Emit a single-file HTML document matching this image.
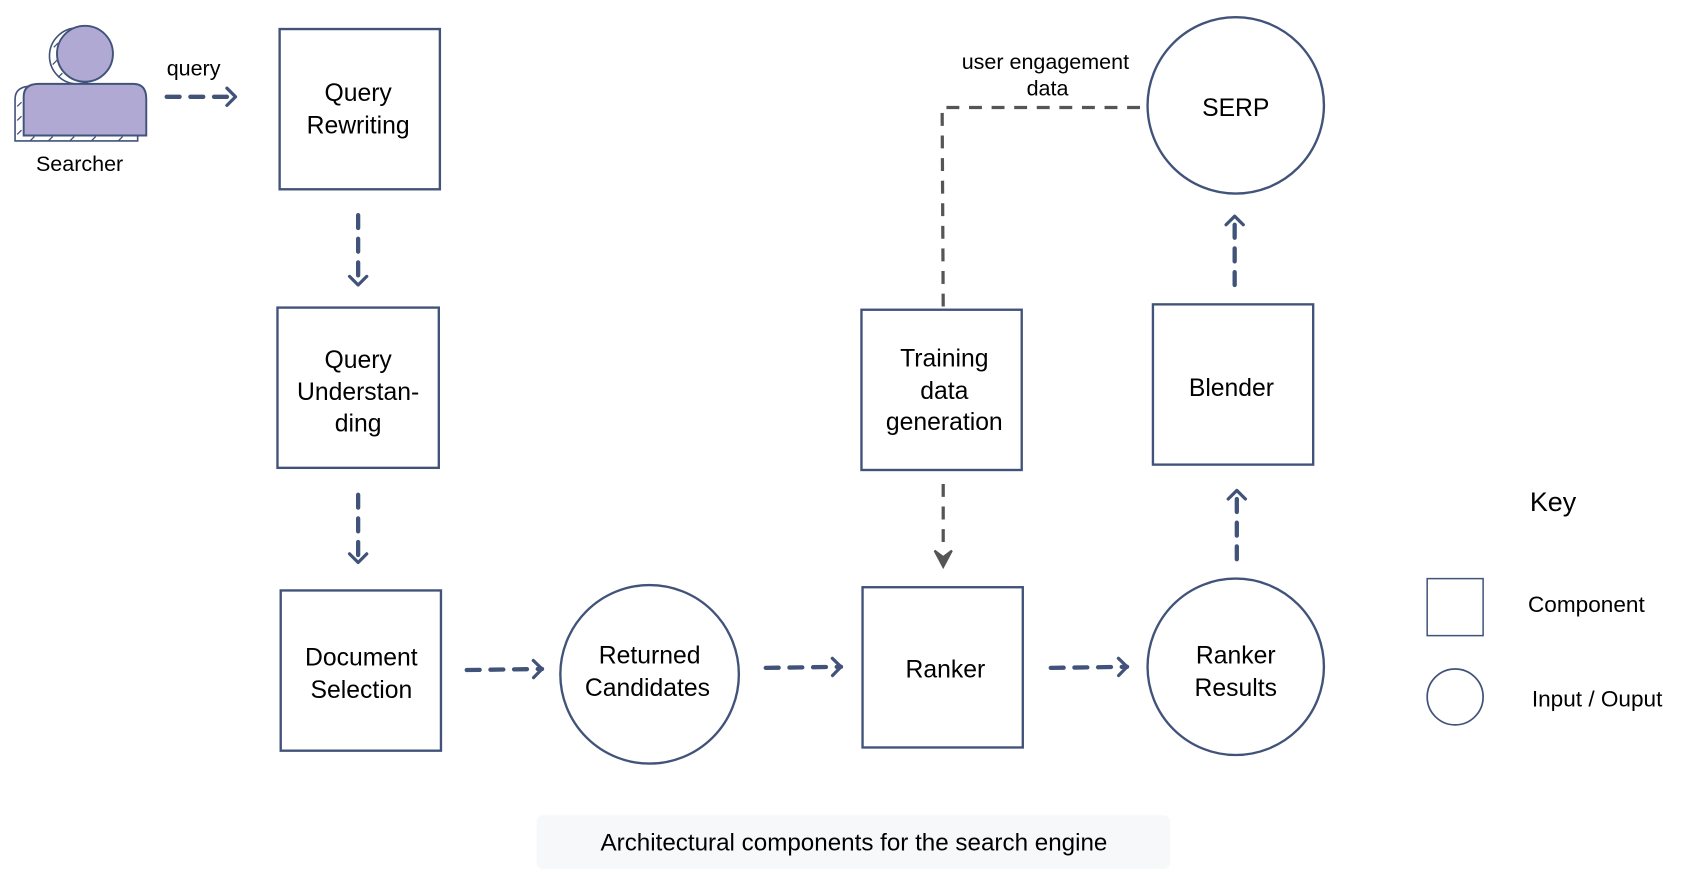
<!DOCTYPE html>
<html><head><meta charset="utf-8"><style>
html,body{margin:0;padding:0;background:#fff;}
svg{display:block;}
text{font-family:"Liberation Sans",Arial,sans-serif;fill:#000;}
</style></head><body>
<svg width="1681" height="869" viewBox="0 0 1563 808" xmlns="http://www.w3.org/2000/svg">
<defs>
<marker id="open" markerWidth="20" markerHeight="20" refX="12" refY="10" orient="auto" markerUnits="userSpaceOnUse">
<path d="M4,2 L12,10 L4,18" fill="none" stroke="#42537a" stroke-width="3" stroke-linecap="round" stroke-linejoin="round"/>
</marker>
</defs>
<g fill="none" stroke="#42537a" stroke-width="2.2">
<circle cx="72" cy="52" r="26" fill="#fff" stroke-width="1.5"/>
<path d="M14,131 L14,92 Q14,80 30,80 L128,80 L128,131 Z" fill="#fff" stroke-width="1.5"/>
</g>
<g stroke="#42537a" stroke-width="1.2">
<path d="M16,125 l4,-4 M16,112 l4,-4 M16,99 l4,-4 M28,131 l4,-4 M45,131 l4,-4 M65,131 l4,-4 M85,131 l4,-4 M110,131 l4,-4 M50,44 l4,-4 M49,60 l4,-4 M54,72 l4,-4"/>
</g>
<g fill="#b0a9d3" stroke="#42537a" stroke-width="1.8">
<circle cx="79" cy="50" r="26"/>
<path d="M22,126 L22,90 Q22,78 36,78 L124,78 Q136,78 136,92 L136,126 Z"/>
</g>
<text x="74" y="159" font-size="20" text-anchor="middle">Searcher</text>
<text x="180" y="70" font-size="20" text-anchor="middle">query</text>

<g fill="none" stroke="#42537a" stroke-width="2.2">
<rect x="260" y="27" width="149" height="149"/>
<rect x="258" y="286" width="150" height="149"/>
<rect x="261" y="549" width="149" height="149"/>
<rect x="802" y="546" width="149" height="149"/>
<rect x="801" y="288" width="149" height="149"/>
<rect x="1072" y="283" width="149" height="149"/>
<circle cx="604" cy="627" r="83"/>
<circle cx="1149" cy="620" r="82"/>
<circle cx="1149" cy="98" r="82"/>
<rect x="1327" y="538" width="52" height="53" stroke-width="1.4"/>
<circle cx="1353" cy="648" r="26" stroke-width="1.6"/>
</g>

<g fill="none" stroke="#42537a" stroke-width="4" stroke-dasharray="12,10" stroke-linecap="round" marker-end="url(#open)">
<path d="M155,90 L219,90"/>
<path d="M333,200 L333,265"/>
<path d="M333,460 L333,523"/>
<path d="M434,623 L504,622"/>
<path d="M712,621 L782,620"/>
<path d="M977,621 L1048,620"/>
<path d="M1150,520 L1150,456"/>
<path d="M1148,265 L1148,201"/>
</g>

<g fill="none" stroke="#555" stroke-width="3" stroke-dasharray="12,9">
<path d="M877,285 L876,100 L1065,100"/>
<path d="M877,450 L877,512"/>
</g>
<path d="M869,512 L877,527 L885,512 L877,518 Z" fill="#555" stroke="#555" stroke-width="2"/>

<text x="972" y="64" font-size="20" text-anchor="middle">user engagement</text>
<text x="974" y="89" font-size="20" text-anchor="middle">data</text>

<g font-size="23" text-anchor="middle">
<text x="333" y="94">Query</text>
<text x="333" y="124">Rewriting</text>
<text x="333" y="342">Query</text>
<text x="333" y="372">Understan-</text>
<text x="333" y="401">ding</text>
<text x="336" y="619">Document</text>
<text x="336" y="649">Selection</text>
<text x="604" y="617">Returned</text>
<text x="602" y="647">Candidates</text>
<text x="879" y="630">Ranker</text>
<text x="878" y="341">Training</text>
<text x="878" y="371">data</text>
<text x="878" y="400">generation</text>
<text x="1145" y="368">Blender</text>
<text x="1149" y="617">Ranker</text>
<text x="1149" y="647">Results</text>
<text x="1149" y="108">SERP</text>
</g>
<text x="1444" y="475" font-size="25" text-anchor="middle">Key</text>
<text x="1475" y="569" font-size="21" text-anchor="middle">Component</text>
<text x="1485" y="657" font-size="21" text-anchor="middle">Input / Ouput</text>

<rect x="499" y="758" width="589" height="50" rx="6" fill="#f7f8fa"/>
<text x="794" y="791" font-size="22.5" text-anchor="middle" fill="#111">Architectural components for the search engine</text>
</svg>
</body></html>
